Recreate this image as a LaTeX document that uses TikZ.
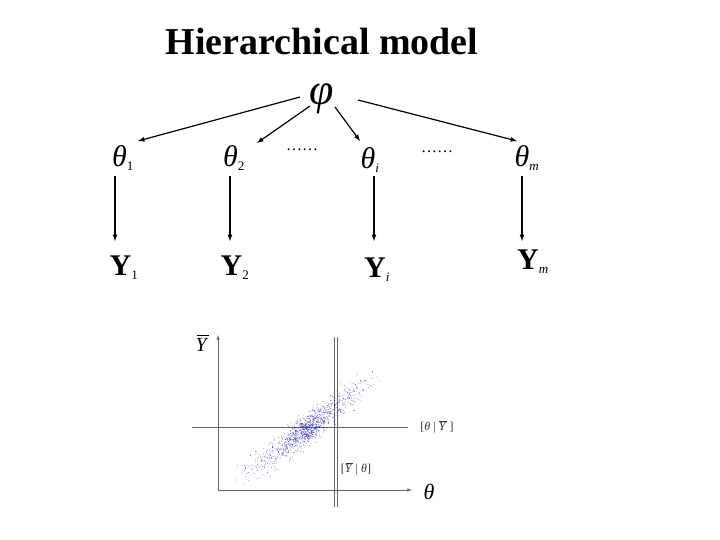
\documentclass[tikz,border=0pt]{standalone}
\usepackage{fontspec}
\setmainfont{Liberation Serif}
\newcommand{\ybar}{\leavevmode\rlap{\hspace{0.05em}\raisebox{0.78em}{\rule{0.62em}{0.05em}}}\textit{Y}}
\begin{document}
\begin{tikzpicture}[x=1pt,y=-1pt,
  arr/.style={-latex,line width=1.2pt},
  ax/.style={gray!80!black,line width=0.6pt},
  gl/.style={font=\fontsize{30}{32}\selectfont\itshape},
  yl/.style={font=\fontsize{30}{32}\selectfont\bfseries}]
\useasboundingbox (0,0) rectangle (720,540);
\newcommand{\sbx}[1]{\textsubscript{\fontsize{13}{14}\selectfont #1}}
\node[font=\fontsize{38}{40}\selectfont\bfseries] (title) at (322,42) {Hierarchical model};
\node[font=\fontsize{44}{46}\selectfont\itshape] (phi) at (322,99) {φ};
\node[gl] (t1) at (123,158) {θ\sbx{\upshape 1}};
\node[gl] (t2) at (234,158) {θ\sbx{\upshape 2}};
\node[gl] (ti) at (370,160) {θ\sbx{i}};
\node[gl] (tm) at (527,158) {θ\sbx{m}};
\node[font=\fontsize{16}{18}\selectfont] (d1) at (302,150) {……};
\node[font=\fontsize{16}{18}\selectfont] (d2) at (437,152) {……};
\node[yl] (y1) at (124,268) {Y\sbx{\normalfont 1}};
\node[yl] (y2) at (235,268) {Y\sbx{\normalfont 2}};
\node[yl] (yi) at (377,270) {Y\sbx{\normalfont\itshape i}};
\node[yl] (ym) at (533,262) {Y\sbx{\normalfont\itshape m}};
\coordinate (p1) at (300,97); \coordinate (q1) at (138,141);
\coordinate (p2) at (310,106); \coordinate (q2) at (257,143);
\coordinate (p3) at (335,107); \coordinate (q3) at (360,141);
\coordinate (p4) at (358,100); \coordinate (q4) at (517,141);
\draw[arr] (p1)--(q1); \draw[arr] (p2)--(q2); \draw[arr] (p3)--(q3); \draw[arr] (p4)--(q4);
\foreach \x/\a in {115/t1,230/t2,374/ti,522/tm}{
  \coordinate (a\a) at (\x,176); \coordinate (b\a) at (\x,241);
  \draw[arr] (a\a)--(b\a);}
% plot
\coordinate (o) at (218,490); \coordinate (yt) at (218,335); \coordinate (xr) at (412,490);
\draw[ax,-latex] (o)--(yt);
\draw[ax,-latex] (o)--(xr);
\coordinate (h1) at (192,427); \coordinate (h2) at (408,427);
\draw[ax] (h1)--(h2);
\coordinate (v1) at (334,337); \coordinate (v2) at (334,507);
\coordinate (v3) at (337,337); \coordinate (v4) at (337,507);
\draw[ax] (v1)--(v2); \draw[ax] (v3)--(v4);
\node[font=\fontsize{20}{22}\selectfont] (yb) at (202,343) {\ybar};
\node[font=\fontsize{22}{24}\selectfont\itshape] (th) at (429,492) {θ};
\node[font=\fontsize{12}{13}\selectfont,gray!40!black] (l1) at (437,427) {[\textit{θ} | \ybar\ ]};
\node[font=\fontsize{12}{13}\selectfont,gray!40!black] (l2) at (356,469) {[\ybar\ | \textit{θ}]};
\pgfmathsetseed{7}
\foreach \k in {1,...,1100}{
  \pgfmathsetmacro{\t}{0.5+0.5*rand*abs(rand)}
  \pgfmathsetmacro{\s}{(rand+rand+rand)*6}
  \fill[blue!70!black,opacity=0.6] ({233+147*\t+0.6*\s},{487-115*\t+0.8*\s}) circle (0.45);
}
\end{tikzpicture}
\end{document}
